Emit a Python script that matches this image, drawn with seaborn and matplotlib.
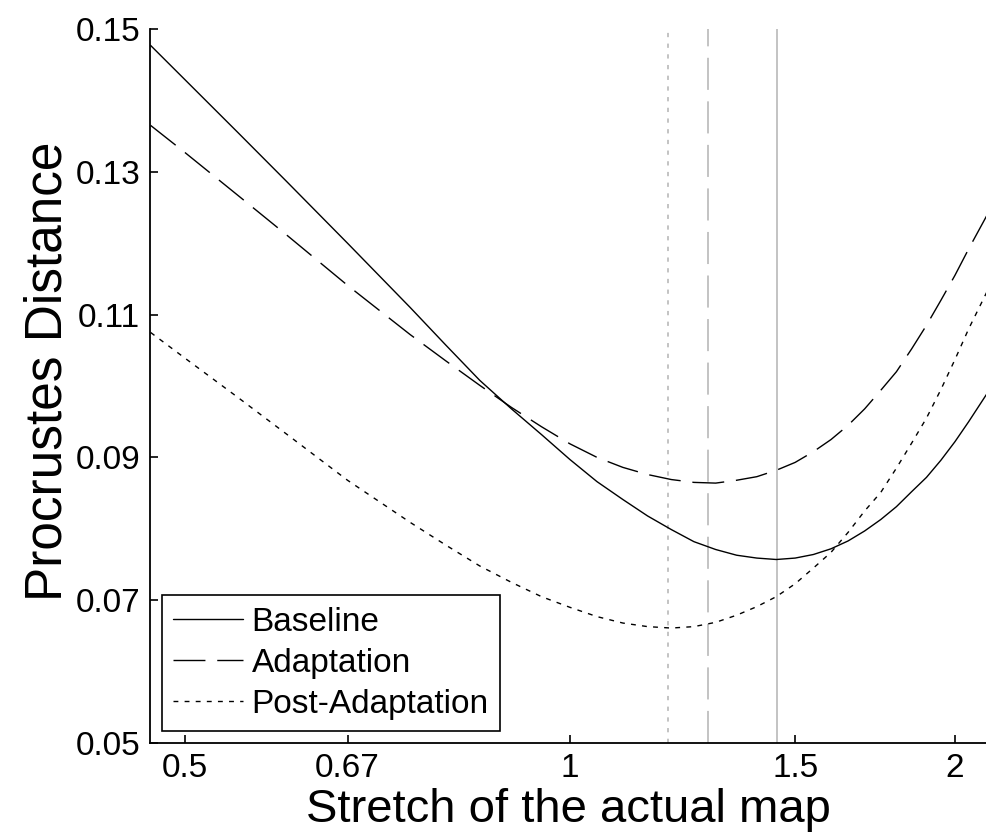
import numpy as np
import pandas as pd
import seaborn as sns
import matplotlib.pyplot as plt
from matplotlib.ticker import NullLocator


# stretch of the actual map (log-scaled x axis)
stretch = [0.47, 0.5, 0.55, 0.6, 0.67, 0.75, 0.8, 0.85, 0.9, 0.95, 1.0,
           1.05, 1.1, 1.15, 1.2, 1.25, 1.3, 1.35, 1.4, 1.45, 1.5, 1.55,
           1.6, 1.65, 1.7, 1.75, 1.8, 1.85, 1.9, 1.95, 2.0, 2.05, 2.12]

baseline = [0.1477, 0.1429, 0.1355, 0.1287, 0.1200, 0.1110, 0.1057, 0.1008,
            0.0968, 0.0932, 0.0897, 0.0866, 0.0841, 0.0818, 0.0799, 0.0782,
            0.0771, 0.0763, 0.0759, 0.0757, 0.0759, 0.0764, 0.0772, 0.0783,
            0.0797, 0.0813, 0.0831, 0.0852, 0.0872, 0.0896, 0.0922, 0.0950,
            0.0990]

adaptation = [0.1365, 0.1327, 0.1267, 0.1212, 0.1141, 0.1072, 0.1035, 0.1001,
              0.0970, 0.0943, 0.0919, 0.0900, 0.0886, 0.0876, 0.0869, 0.0865,
              0.0864, 0.0868, 0.0873, 0.0882, 0.0893, 0.0908, 0.0925, 0.0945,
              0.0968, 0.0994, 0.1020, 0.1052, 0.1085, 0.1120, 0.1155, 0.1192,
              0.1240]

post_adaptation = [0.1075, 0.1039, 0.0984, 0.0933, 0.0868, 0.0809, 0.0777,
                   0.0748, 0.0725, 0.0705, 0.0690, 0.0677, 0.0668, 0.0663,
                   0.0661, 0.0663, 0.0669, 0.0679, 0.0691, 0.0705, 0.0723,
                   0.0745, 0.0767, 0.0795, 0.0825, 0.0851, 0.0885, 0.0920,
                   0.0955, 0.0995, 0.1037, 0.1080, 0.1133]

conditions = ['Baseline', 'Adaptation', 'Post-Adaptation']
best_stretch = [1.452, 1.282, 1.193]

x_ticks = [0.5, 0.67, 1, 1.5, 2]
x_tick_labels = ['0.5', '0.67', '1', '1.5', '2']
y_ticks = [0.05, 0.07, 0.09, 0.11, 0.13, 0.15]
y_tick_labels = ['0.05', '0.07', '0.09', '0.11', '0.13', '0.15']

sns.set_style('white')
plt.rcParams['font.family'] = ['Liberation Sans', 'DejaVu Sans']
plt.rcParams['text.color'] = 'black'
plt.rcParams['axes.labelcolor'] = 'black'

styles = ['-', (0, (23, 8.5)), (0, (3.5, 4.5))]
gray_styles = ['-', (0, (21, 7.5)), (0, (2.8, 4.2))]

fig = plt.figure(figsize=(9.86, 8.34), dpi=100)
ax = fig.add_axes([150 / 986, 91 / 834, 836 / 986, 714 / 834])

# optimum markers for each condition
for xv, ls in zip(best_stretch, gray_styles):
    ax.axvline(xv, color='#b3b3b3', lw=1.1, linestyle=ls, zorder=1)

df = pd.DataFrame({'stretch': stretch, 'Baseline': baseline,
                   'Adaptation': adaptation, 'Post-Adaptation': post_adaptation})

for name, ls in zip(conditions, styles):
    sns.lineplot(data=df, x='stretch', y=name, ax=ax, color='black',
                 lw=1.0, linestyle=ls, label=name, zorder=3)

ax.set_xscale('log')
ax.set_xlim(0.4695, 2.115)
ax.set_ylim(0.05, 0.15)
ax.set_xticks(x_ticks)
ax.set_xticklabels(x_tick_labels)
ax.xaxis.set_minor_locator(NullLocator())
ax.set_yticks(y_ticks)
ax.set_yticklabels(y_tick_labels)

ax.tick_params(direction='in', length=6, width=1.2, labelsize=24,
               colors='black', pad=7, top=False, right=False, bottom=True, left=True)

for side in ['top', 'right']:
    ax.spines[side].set_visible(False)
for side in ['left', 'bottom']:
    ax.spines[side].set_color('black')
    ax.spines[side].set_linewidth(1.3)

ax.set_xlabel('Stretch of the actual map', fontsize=34, labelpad=3)
ax.set_ylabel('Procrustes Distance', fontsize=37)
ax.yaxis.set_label_coords(-0.093, 0.521)

leg = ax.legend(loc='lower left', fontsize=24, frameon=True, fancybox=False,
                edgecolor='black', handlelength=2.1, handletextpad=0.25,
                labelspacing=0.3, borderpad=0.35, borderaxespad=0.35)
leg.get_frame().set_linewidth(1.2)
leg.get_frame().set_alpha(1)
for t in leg.get_texts():
    t.set_color('black')

plt.savefig('out.png', dpi=100)
